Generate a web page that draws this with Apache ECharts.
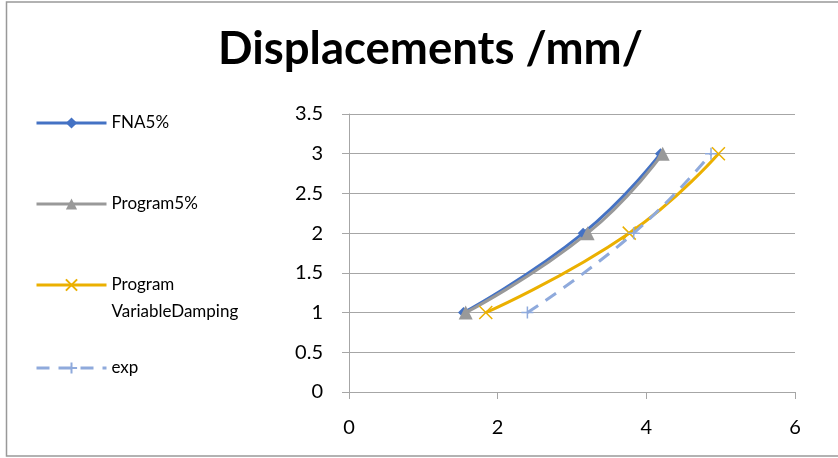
<!DOCTYPE html>
<html>
<head>
<meta charset="utf-8">
<script src="https://cdn.jsdelivr.net/npm/echarts@6/dist/echarts.min.js"></script>
<style>
  html, body { margin: 0; padding: 0; background: #fff; }
  #chart { width: 838px; height: 458px; }
</style>
</head>
<body>
<div id="chart"></div>
<script>
// Displacement (mm) on x, storey level on y
const seriesNames = ['FNA5%', 'Program5%', 'Program\nVariableDamping', 'exp'];
const levels = [1, 2, 3];
const fnaX = [1.54, 3.15, 4.19];
const program5X = [1.57, 3.21, 4.22];
const programVarX = [1.84, 3.77, 4.97];
const expX = [2.40, 3.83, 4.87];

const xTicks = [0, 2, 4, 6];
const yTicks = [0, 0.5, 1, 1.5, 2, 2.5, 3, 3.5];

const FONT = 'Lato';
const colors = ['#4472C4', '#999999', '#EBB000', '#8FAADC'];

function pairs(xs) { return xs.map((x, i) => [x, levels[i]]); }

const crossPath = 'path://M0,0L10,10M10,0L0,10';
const plusPath = 'path://M5,0L5,10M0,5L10,5';

const chart = echarts.init(document.getElementById('chart'), null, { renderer: 'canvas' });

const legendText = { fontFamily: FONT, fontSize: 17, color: '#000', lineHeight: 27 };

function legendAt(name, top, extra) {
  return Object.assign({
    data: [name], orient: 'vertical', left: 30, top: top,
    itemWidth: 70, itemHeight: 14, itemGap: 0,
    lineStyle: { width: 3 },
    textStyle: legendText
  }, extra || {});
}

chart.setOption({
  animation: false,
  color: colors,
  title: {
    text: 'Displacements /mm/',
    left: 218, top: 26, padding: 0,
    textStyle: { fontFamily: FONT, fontWeight: 'bold', fontSize: 45.5, color: '#000' }
  },
  graphic: [{
    type: 'rect', shape: { x: 6.5, y: 2, width: 840, height: 454 },
    style: { fill: 'none', stroke: '#999', lineWidth: 1.5 }, silent: true, z: -1
  }],
  legend: [
    legendAt(seriesNames[0], 104.5),
    legendAt(seriesNames[1], 185.5),
    // blank first line keeps the icon beside "Program" with the rest below
    legendAt(seriesNames[2], 239.5, { formatter: n => ' \n' + n }),
    legendAt(seriesNames[3], 349.5)
  ],
  grid: { left: 349, right: 43, top: 114, bottom: 66 },
  xAxis: {
    type: 'value', min: xTicks[0], max: xTicks[xTicks.length - 1], interval: 2,
    axisLine: { onZero: false, lineStyle: { color: '#A6A6A6', width: 1 } },
    axisTick: { show: true, length: 7, lineStyle: { color: '#A6A6A6' } },
    splitLine: { show: false },
    axisLabel: { margin: 26, fontFamily: FONT, fontSize: 20, color: '#000' }
  },
  yAxis: {
    type: 'value', min: yTicks[0], max: yTicks[yTicks.length - 1], interval: 0.5,
    axisLine: { show: true, onZero: false, lineStyle: { color: '#A6A6A6', width: 1 } },
    axisTick: { show: true, length: 7, lineStyle: { color: '#A6A6A6' } },
    splitLine: { show: true, lineStyle: { color: '#A6A6A6', width: 1 } },
    axisLabel: { margin: 26, fontFamily: FONT, fontSize: 20, color: '#000' }
  },
  series: [
    {
      name: seriesNames[0], type: 'line', smooth: 0.5, data: pairs(fnaX),
      symbol: 'diamond', symbolSize: 11,
      lineStyle: { color: colors[0], width: 3 },
      itemStyle: { color: colors[0] }
    },
    {
      name: seriesNames[1], type: 'line', smooth: 0.5, data: pairs(program5X),
      symbol: 'triangle', symbolSize: 14,
      lineStyle: { color: colors[1], width: 3 },
      itemStyle: { color: colors[1] }
    },
    {
      name: seriesNames[2], type: 'line', smooth: 0.5, data: pairs(programVarX),
      symbol: crossPath, symbolSize: 13,
      lineStyle: { color: colors[2], width: 3 },
      itemStyle: { color: colors[2], borderColor: colors[2], borderWidth: 1.5 }
    },
    {
      name: seriesNames[3], type: 'line', smooth: 0.5, data: pairs(expX),
      symbol: plusPath, symbolSize: 12,
      lineStyle: { color: colors[3], width: 3, type: [13, 9] },
      itemStyle: { color: colors[3], borderColor: colors[3], borderWidth: 1.5 }
    }
  ]
});
</script>
</body>
</html>
